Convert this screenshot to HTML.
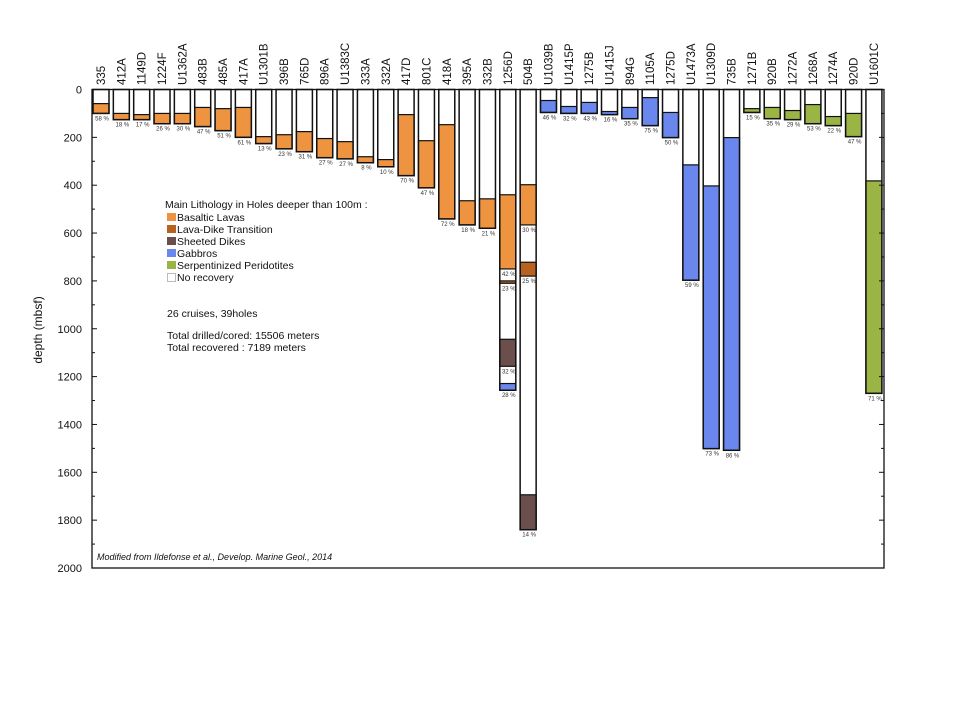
<!DOCTYPE html>
<html><head><meta charset="utf-8"><style>
html,body{margin:0;padding:0;background:#fff;}
svg text{font-family:"Liberation Sans",Arial,sans-serif;}
</style></head><body>
<svg id="chart" width="960" height="720" xmlns="http://www.w3.org/2000/svg">
<rect width="960" height="720" fill="#fff"/>
<g id="bars"></g>
<g id="axes"></g>
<g id="legend" font-size="10.5" fill="#111">
<text x="165" y="208">Main Lithology in Holes deeper than 100m :</text>
<rect x="167" y="213" width="9" height="8" fill="#EE9440"/>
<text x="177" y="221">Basaltic Lavas</text>
<rect x="167" y="225" width="9" height="8" fill="#B8621F"/>
<text x="177" y="233">Lava-Dike Transition</text>
<rect x="167" y="237" width="9" height="8" fill="#6B4F4C"/>
<text x="177" y="245">Sheeted Dikes</text>
<rect x="167" y="249" width="9" height="8" fill="#6A87EE"/>
<text x="177" y="257">Gabbros</text>
<rect x="167" y="261" width="9" height="8" fill="#9BB545"/>
<text x="177" y="269">Serpentinized Peridotites</text>
<rect x="167.5" y="273.5" width="8" height="8" fill="#fff" stroke="#bbb"/>
<text x="177" y="281">No recovery</text>
<text x="167" y="317">26 cruises, 39holes</text>
<text x="167" y="339">Total drilled/cored: 15506 meters</text>
<text x="167" y="351">Total recovered : 7189 meters</text>
</g>
<text x="97" y="560" font-size="9" font-style="italic" fill="#111">Modified from Ildefonse et al., Develop. Marine Geol., 2014</text>
<text transform="translate(42,330) rotate(-90)" text-anchor="middle" font-size="12" fill="#111">depth (mbsf)</text>
</svg>
<script>
const holes = ["335","412A","1149D","1224F","U1362A","483B","485A","417A","U1301B","396B","765D","896A","U1383C","333A","332A","417D","801C","418A","395A","332B","1256D","504B","U1039B","U1415P","1275B","U1415J","894G","1105A","1275D","U1473A","U1309D","735B","1271B","920B","1272A","1268A","1274A","920D","U1601C"];
const totalDepths = [100,126,126,143,143,155,172,200,226,248,260,285,290,306,323,360,411,541,566,580,1257,1840,96,100,100,105,122,151,201,797,1501,1508,96,122,126,143,151,197,1270];
// segments: [holeIndex, topDepth, bottomDepth, lithology]
const segments = [
[0,59,100,"B"],[1,100,126,"B"],[2,105,126,"B"],[3,100,143,"B"],[4,100,143,"B"],[5,75,155,"B"],[6,80,172,"B"],[7,75,200,"B"],
[8,197,226,"B"],[9,189,248,"B"],[10,176,260,"B"],[11,205,285,"B"],[12,218,290,"B"],[13,281,306,"B"],[14,293,323,"B"],
[15,105,360,"B"],[16,214,411,"B"],[17,147,541,"B"],[18,465,566,"B"],[19,457,580,"B"],
[20,440,750,"B"],[20,800,810,"T"],[20,1044,1157,"D"],[20,1229,1257,"G"],
[21,398,566,"B"],[21,722,780,"T"],[21,1694,1840,"D"],
[22,46,96,"G"],[23,71,100,"G"],[24,54,100,"G"],[25,92,105,"G"],[26,75,122,"G"],[27,34,151,"G"],[28,96,201,"G"],
[29,315,797,"G"],[30,403,1501,"G"],[31,201,1508,"G"],
[32,80,96,"P"],[33,75,122,"P"],[34,88,126,"P"],[35,63,143,"P"],[36,113,151,"P"],[37,100,197,"P"],[38,382,1270,"P"]
];
// recovery labels: [holeIndex, depth, text]
const pctLabels = [
[0,100,"58 %"],[1,126,"18 %"],[2,126,"17 %"],[3,143,"26 %"],[4,143,"30 %"],[5,155,"47 %"],[6,172,"51 %"],[7,200,"61 %"],
[8,226,"13 %"],[9,248,"23 %"],[10,260,"31 %"],[11,285,"27 %"],[12,290,"27 %"],[13,306,"8 %"],[14,323,"10 %"],
[15,360,"70 %"],[16,411,"47 %"],[17,541,"72 %"],[18,566,"18 %"],[19,580,"21 %"],
[20,750,"42 %"],[20,810,"23 %"],[20,1157,"32 %"],[20,1257,"28 %"],
[21,566,"30 %"],[21,780,"25 %"],[21,1840,"14 %"],
[22,96,"46 %"],[23,100,"32 %"],[24,100,"43 %"],[25,105,"16 %"],[26,122,"35 %"],[27,151,"75 %"],[28,201,"50 %"],
[29,797,"59 %"],[30,1501,"73 %"],[31,1508,"86 %"],
[32,96,"15 %"],[33,122,"35 %"],[34,126,"29 %"],[35,143,"53 %"],[36,151,"22 %"],[37,197,"47 %"],[38,1270,"71 %"]
];
const yTicks = [0,200,400,600,800,1000,1200,1400,1600,1800,2000];
const colors = {B:"#EE9440",T:"#B8621F",D:"#6B4F4C",G:"#6A87EE",P:"#9BB545"};
const names = {B:"basaltic-lavas",T:"lava-dike-transition",D:"sheeted-dikes",G:"gabbros",P:"peridotites"};
const NS="http://www.w3.org/2000/svg";
const X0=92,X1=884,Y0=89.5,Y1=568;
const y=d=>Y0+d*(Y1-Y0)/2000;
const xl=i=>93+i*20.34;
const BW=16;
function mk(tag,attrs,parent){const e=document.createElementNS(NS,tag);for(const k in attrs)e.setAttribute(k,attrs[k]);parent.appendChild(e);return e;}
const bars=document.getElementById('bars'),axes=document.getElementById('axes');
holes.forEach((h,i)=>{
  const r=mk('rect',{x:xl(i),y:y(0),width:BW,height:y(totalDepths[i])-y(0),fill:'#fff'},bars);
  
  
  const t=mk('text',{transform:`translate(${xl(i)+BW/2+4},85) rotate(-90)`,'font-size':'11.5',fill:'#111'},axes);
  t.textContent=h;
  
  
});
segments.forEach(s=>{
  const r=mk('rect',{x:xl(s[0]),y:y(s[1]),width:BW,height:y(s[2])-y(s[1]),fill:colors[s[3]],stroke:'#111','stroke-width':1.2},bars);
  
  
});
holes.forEach((h,i)=>{
  const r=mk('rect',{x:xl(i),y:y(0),width:BW,height:y(totalDepths[i])-y(0),fill:'none',stroke:'#111','stroke-width':1.5},bars);
  
  
});
pctLabels.forEach(p=>{
  const t=mk('text',{x:xl(p[0])+BW/2+1,y:y(p[1])+7,'font-size':'6','text-anchor':'middle',fill:'#333'},bars);
  t.textContent=p[2];
  
  
});
const frame=mk('rect',{x:X0,y:Y0,width:X1-X0,height:Y1-Y0,fill:'none',stroke:'#111','stroke-width':1.3},axes);


for(let d=0;d<=2000;d+=100){
  const major=d%200===0;
  const l=mk('line',{x1:X0,x2:X0+(major?5:3),y1:y(d),y2:y(d),stroke:'#111','stroke-width':1},axes);
  
  
  const r=mk('line',{x1:X1,x2:X1-(major?5:3),y1:y(d),y2:y(d),stroke:'#111','stroke-width':1},axes);
  
  
}
yTicks.forEach(v=>{
  const t=mk('text',{x:82,y:y(v)+4,'font-size':'11','text-anchor':'end',fill:'#111'},axes);
  t.textContent=v;
  
  
});
</script>
</body></html>
